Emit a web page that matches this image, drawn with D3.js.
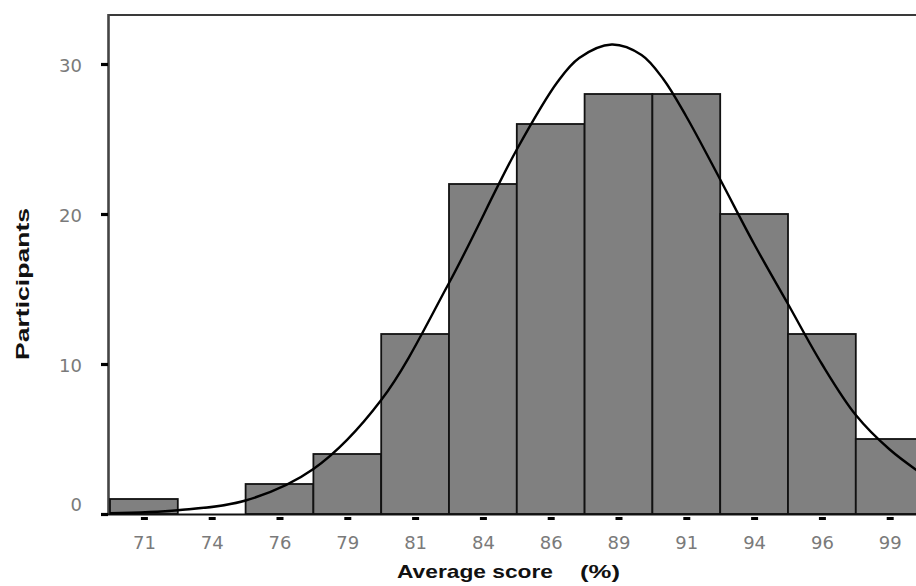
<!DOCTYPE html>
<html>
<head>
<meta charset="utf-8">
<script src="https://cdn.jsdelivr.net/npm/d3@7"></script>
<style>
  body { margin: 0; background: #fff; }
  svg { display: block; }
</style>
</head>
<body>
<div id="chart"></div>
<script>
// histogram bins (midpoints, 2.5 wide) and counts
const binMids = [71.25, 73.75, 76.25, 78.75, 81.25, 83.75, 86.25, 88.75, 91.25, 93.75, 96.25, 98.75];
const tickLabels = ["71", "74", "76", "79", "81", "84", "86", "89", "91", "94", "96", "99"];
const counts = [1, 0, 2, 4, 12, 22, 26, 28, 28, 20, 12, 5];
const binWidth = 2.5;

// fitted curve
const curveScore = [70, 72.5, 75, 77.5, 80, 82.5, 85, 86.5, 87.3, 88.5, 89.6, 90.4, 91.25, 92.5, 93.75, 95, 96.25, 97.5, 98.75, 100];
const curveCount = [0.05, 0.25, 0.9, 3.0, 7.6, 15.4, 24.3, 28.8, 30.4, 31.3, 30.6, 29.0, 26.5, 22.3, 18.0, 14.0, 10.0, 6.6, 4.3, 2.6];

const yTicks = [0, 10, 20, 30];

const width = 916, height = 586;

const svg = d3.select("#chart")
    .append("svg")
    .attr("width", width)
    .attr("height", height);

svg.append("rect").attr("width", width).attr("height", height).attr("fill", "#fff");

const x = d3.scaleLinear().domain([70, 100]).range([110, 923.6]);
const y = d3.scaleLinear().domain([0, 30]).range([514, 64]);

// frame: top border and left axis line
svg.append("line")
    .attr("x1", 108).attr("x2", width)
    .attr("y1", 15).attr("y2", 15)
    .attr("stroke", "#3a3a3a").attr("stroke-width", 2.2);

svg.append("line")
    .attr("x1", 108.5).attr("x2", 108.5)
    .attr("y1", 14).attr("y2", 515)
    .attr("stroke", "#444").attr("stroke-width", 2.6);

// bars
svg.append("g")
    .selectAll("rect")
    .data(counts)
    .enter().append("rect")
    .attr("x", (d, i) => x(binMids[i] - binWidth / 2))
    .attr("width", (d, i) => x(binMids[i] + binWidth / 2) - x(binMids[i] - binWidth / 2))
    .attr("y", d => y(d))
    .attr("height", d => y(0) - y(d))
    .attr("fill", "#808080")
    .attr("stroke", "#111")
    .attr("stroke-width", 1.8);

// baseline
svg.append("line")
    .attr("x1", 102).attr("x2", width)
    .attr("y1", 514.5).attr("y2", 514.5)
    .attr("stroke", "#111").attr("stroke-width", 2.2);

// curve
const curvePts = curveScore.map((s, i) => [s, curveCount[i]]);
svg.append("path")
    .datum(curvePts)
    .attr("fill", "none")
    .attr("stroke", "#000")
    .attr("stroke-width", 2.4)
    .attr("d", d3.line()
        .x(d => x(d[0]))
        .y(d => y(d[1]))
        .curve(d3.curveCatmullRom.alpha(0.5)));

// y axis ticks + labels
const yAxis = svg.append("g")
    .attr("transform", "translate(108,0)")
    .call(d3.axisLeft(y).tickValues(yTicks).tickSize(7).tickPadding(19));
yAxis.select(".domain").remove();
yAxis.selectAll(".tick line").attr("stroke", "#000").attr("stroke-width", 3.2);
yAxis.selectAll(".tick text")
    .attr("font-family", "DejaVu Sans, sans-serif")
    .attr("font-size", 18)
    .attr("fill", "#7a7a7a")
    .attr("dy", "0.42em")
    .attr("y", d => d === 0 ? -11 : 0);

// x axis ticks + labels
const xAxis = svg.append("g")
    .attr("transform", "translate(0,514)")
    .call(d3.axisBottom(x).tickValues(binMids).tickFormat((d, i) => tickLabels[i]));
xAxis.select(".domain").remove();
xAxis.selectAll(".tick line")
    .attr("y1", 3).attr("y2", 6)
    .attr("stroke", "#000").attr("stroke-width", 7);
xAxis.selectAll(".tick text")
    .attr("font-family", "DejaVu Sans, sans-serif")
    .attr("font-size", 18)
    .attr("fill", "#7a7a7a")
    .attr("y", 35)
    .attr("dy", 0);

// axis titles
svg.append("text")
    .attr("x", 397).attr("y", 578)
    .attr("font-family", "Liberation Sans, Arial, sans-serif")
    .attr("font-weight", "bold")
    .attr("font-size", 19)
    .attr("fill", "#111")
    .attr("textLength", 156)
    .attr("lengthAdjust", "spacingAndGlyphs")
    .text("Average score");

svg.append("text")
    .attr("x", 580).attr("y", 578)
    .attr("font-family", "Liberation Sans, Arial, sans-serif")
    .attr("font-weight", "bold")
    .attr("font-size", 19)
    .attr("fill", "#111")
    .attr("textLength", 40)
    .attr("lengthAdjust", "spacingAndGlyphs")
    .text("(%)");

svg.append("text")
    .attr("transform", "translate(29,284) rotate(-90)")
    .attr("text-anchor", "middle")
    .attr("font-family", "Liberation Sans, Arial, sans-serif")
    .attr("font-weight", "bold")
    .attr("font-size", 19)
    .attr("fill", "#111")
    .attr("textLength", 152)
    .attr("lengthAdjust", "spacingAndGlyphs")
    .text("Participants");
</script>
</body>
</html>
